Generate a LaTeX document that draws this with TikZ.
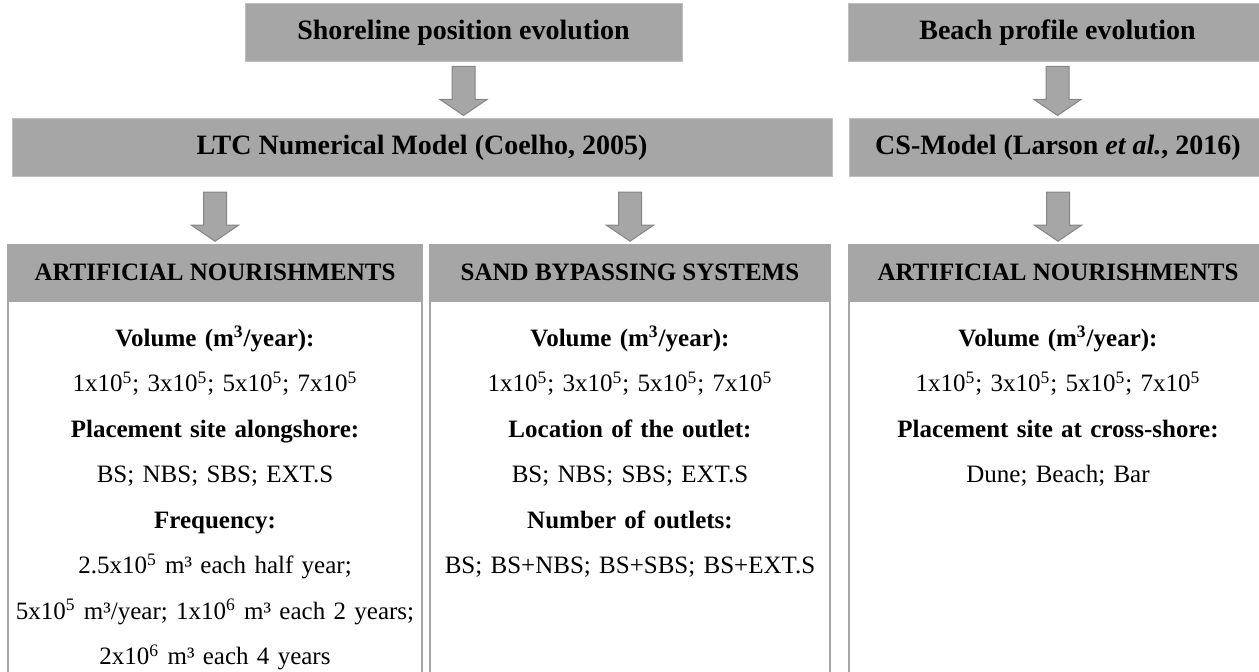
\documentclass[tikz,border=0pt]{standalone}
\usepackage{fontspec}
\setmainfont{Liberation Serif}
\usetikzlibrary{positioning}
\definecolor{boxgray}{HTML}{A6A6A6}
\definecolor{edgegray}{HTML}{BFBFBF}
\definecolor{arrowedge}{HTML}{858585}
\tikzset{title/.style = {fill=boxgray, draw=edgegray, line width=0.5pt, minimum height=29pt, inner sep=0pt, font=\fontsize{14}{16}\selectfont\bfseries}}
\tikzset{colhead/.style = {fill=boxgray, draw=boxgray, line width=0.75pt, minimum height=27.5pt, inner sep=0pt, font=\fontsize{12.5}{15}\selectfont\bfseries}}
\tikzset{colbody/.style = {draw=boxgray, line width=0.75pt, minimum height=190pt, inner sep=0pt}}
\tikzset{coltext/.style = {text width=200pt, align=center, inner sep=0pt, font=\fontsize{12.5}{22.75}\selectfont}}
\tikzset{bigarrow/.style = {fill=boxgray, draw=arrowedge, line width=0.5pt}}
\newcommand{\tenpow}[2]{#1x10\textsuperscript{#2}}
\newcommand{\blockarrow}[1]{%
	\draw[bigarrow] (#1) ++(0pt,1.5pt) -- ++(-11.75pt,8pt) -- ++(6pt,0pt) -- ++(0pt,16.5pt)
		-- ++(11.5pt,0pt) -- ++(0pt,-16.5pt) -- ++(6pt,0pt) -- cycle;}

\begin{document}
\begin{tikzpicture}[x=0.5pt, y=-0.5pt]
	\useasboundingbox (0,0) rectangle (1259,672);
	\clip (0,0) rectangle (1259,672);
	% models
	\node[title, minimum width=218.5pt] (shore) at (463.5,33) {Shoreline position evolution};
	\node[title, minimum width=209.5pt] (beach) at (1057.5,33) {Beach profile evolution};
	\node[title, minimum width=410pt] (ltc) at (422,148) {LTC Numerical Model (Coelho, 2005)};
	\node[title, minimum width=209pt] (cs) at (1058,148) {CS-Model (Larson \textit{et al.}, 2016)};
	% scenarios
	\node[colhead, minimum width=207pt] (artA) at (215,272.5) {ARTIFICIAL NOURISHMENTS};
	\node[colhead, minimum width=200pt] (sandB) at (630,272.5) {SAND BYPASSING SYSTEMS};
	\node[colhead, minimum width=209pt] (artC) at (1058,272.5) {ARTIFICIAL NOURISHMENTS};
	\node[colbody, minimum width=207pt, below=0pt of artA] (artAbody) {};
	\node[colbody, minimum width=200pt, below=0pt of sandB] (sandBbody) {};
	\node[colbody, minimum width=209pt, below=0pt of artC] (artCbody) {};
	\node[coltext, below=12.5pt of artA.south] (artAtext) {\textbf{Volume (m\textsuperscript{3}/year):}\\
		\tenpow{1}{5}; \tenpow{3}{5}; \tenpow{5}{5}; \tenpow{7}{5}\\
		\textbf{Placement site alongshore:}\\
		BS; NBS; SBS; EXT.S\\
		\textbf{Frequency:}\\
		\tenpow{2.5}{5} m³ each half year;\\
		\tenpow{5}{5} m³/year; \tenpow{1}{6} m³ each 2 years;\\
		\tenpow{2}{6} m³ each 4 years};
	\node[coltext, below=12.5pt of sandB.south] (sandBtext) {\textbf{Volume (m\textsuperscript{3}/year):}\\
		\tenpow{1}{5}; \tenpow{3}{5}; \tenpow{5}{5}; \tenpow{7}{5}\\
		\textbf{Location of the outlet:}\\
		BS; NBS; SBS; EXT.S\\
		\textbf{Number of outlets:}\\
		BS; BS+NBS; BS+SBS; BS+EXT.S};
	\node[coltext, below=12.5pt of artC.south] (artCtext) {\textbf{Volume (m\textsuperscript{3}/year):}\\
		\tenpow{1}{5}; \tenpow{3}{5}; \tenpow{5}{5}; \tenpow{7}{5}\\
		\textbf{Placement site at cross-shore:}\\
		Dune; Beach; Bar};
	% arrows
	\blockarrow{shore |- ltc.north}
	\blockarrow{beach |- cs.north}
	\blockarrow{artA.north}
	\blockarrow{sandB.north}
	\blockarrow{artC.north}
\end{tikzpicture}
\end{document}
